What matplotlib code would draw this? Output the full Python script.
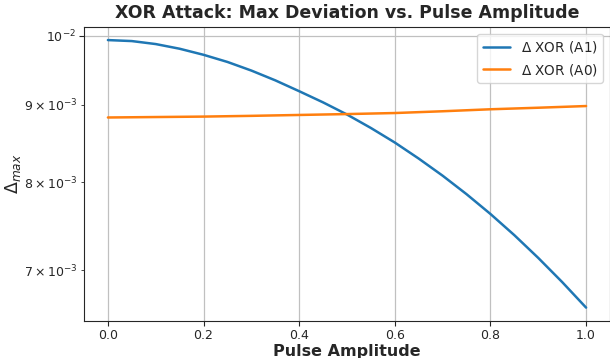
import numpy as np
import matplotlib
matplotlib.use("Agg")
import matplotlib.pyplot as plt
import seaborn as sns

# pulse amplitudes and max deviations
amplitude = [0.0, 0.05, 0.1, 0.15, 0.2, 0.25, 0.3, 0.35, 0.4, 0.45, 0.5,
             0.55, 0.6, 0.65, 0.7, 0.75, 0.8, 0.85, 0.9, 0.95, 1.0]
dev_a1 = [9.933e-3, 9.918e-3, 9.873e-3, 9.803e-3, 9.713e-3, 9.608e-3,
          9.483e-3, 9.343e-3, 9.190e-3, 9.035e-3, 8.870e-3, 8.690e-3,
          8.500e-3, 8.295e-3, 8.082e-3, 7.858e-3, 7.625e-3, 7.383e-3,
          7.132e-3, 6.875e-3, 6.613e-3]
amp_a0 = [0.0, 0.1, 0.2, 0.3, 0.4, 0.5, 0.6, 0.7, 0.8, 0.9, 1.0]
dev_a0 = [8.830e-3, 8.836e-3, 8.842e-3, 8.852e-3, 8.864e-3, 8.876e-3,
          8.890e-3, 8.914e-3, 8.941e-3, 8.962e-3, 8.985e-3]

sns.set_style("ticks")
plt.rcParams['font.family'] = ['DejaVu Sans']

fig = plt.figure(figsize=(6.1, 3.58), dpi=100)
ax = fig.add_axes([84/610, 37/358, 526/610, 294.3/358])

ax.plot(amplitude, dev_a1, color='#1f77b4', lw=1.8, label=r'$\Delta$ XOR (A1)')
ax.plot(amp_a0, dev_a0, color='#ff7f0e', lw=1.8, label=r'$\Delta$ XOR (A0)')
ax.set_yscale('log')
ax.grid(True, which='major', color='#c0c0c0', lw=0.9)

ax.set_title('XOR Attack: Max Deviation vs. Pulse Amplitude', fontsize=12.5,
             fontweight='bold', color='#262626', pad=6)
ax.set_xlabel('Pulse Amplitude', fontsize=11.5, fontweight='bold', labelpad=1)
ax.set_ylabel(r'$\Delta_{max}$', fontsize=12.5, labelpad=1)
ax.tick_params(axis='both', which='major', labelsize=9, length=3.5, pad=2.5)
ax.tick_params(axis='both', which='minor', labelsize=9, length=2, pad=2.5)
ax.legend(loc='upper right', fontsize=9.8)

fig.savefig('out.png', dpi=100)
